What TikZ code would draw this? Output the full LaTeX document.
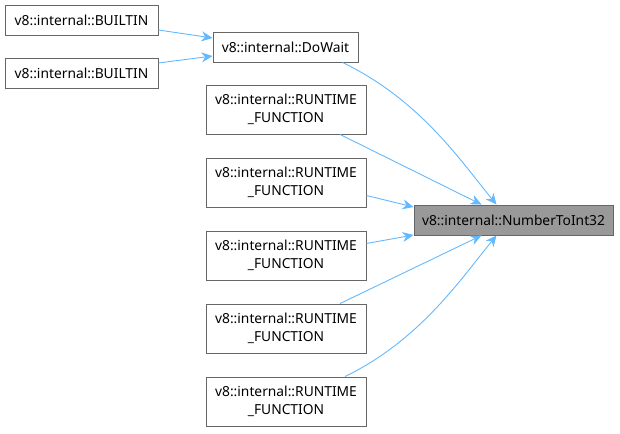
\documentclass[tikz,border=0pt]{standalone}
\usepackage{fontspec}
\setmainfont{Noto Sans}
\usetikzlibrary{arrows.meta}
\definecolor{edgeblue}{HTML}{63B8FF}
\definecolor{boxgray}{HTML}{666666}
\definecolor{fillgray}{HTML}{999999}

\begin{document}
\begin{tikzpicture}[x=1pt, y=-1pt, line width=0.9pt,
    fn/.style={draw=boxgray, fill=white, inner sep=0pt, align=center,
        font=\fontsize{13.8}{18}\selectfont},
    call/.style={draw=edgeblue, -{Stealth[length=11pt, width=10pt]}}]
            \useasboundingbox (0,0) rectangle (620,433);

            % Callers on the left
            \node[fn, minimum width=153, minimum height=30] (builtinA) at (81.5,20) {v8::internal::BUILTIN};
            \node[fn, minimum width=153, minimum height=30] (builtinB) at (81.5,73) {v8::internal::BUILTIN};
            \node[fn, minimum width=145, minimum height=30] (dowait) at (285.5,47) {v8::internal::DoWait};

            % The runtime functions
            \foreach \i/\y in {1/109.5, 2/182.5, 3/255.5, 4/328.5, 5/401.5} {
                \node[fn, minimum width=160, minimum height=49] (rt\i) at (286,\y) {v8::internal::RUNTIME\\\_FUNCTION};
            }

            % The callee
            \node[fn, fill=fillgray, minimum width=199, minimum height=30] (numtoint) at (513.5,220) {v8::internal::NumberToInt32};

            % Edges
            \draw[call] ([yshift=-10]builtinA.east) -- ([yshift=9]dowait.west);
            \draw[call] ([yshift=10]builtinB.east) -- ([yshift=-9]dowait.west);
            \draw[call] ([xshift=57]dowait.south) .. controls (420,100) and (460,160) .. ([xshift=-17]numtoint.north);
            \draw[call] ([xshift=54]rt1.south) -- ([xshift=-32]numtoint.north);
            \draw[call] ([yshift=-13]rt2.east) -- ([yshift=13]numtoint.west);
            \draw[call] ([yshift=12]rt3.east) -- ([yshift=-15]numtoint.west);
            \draw[call] ([xshift=54]rt4.north) -- ([xshift=-32]numtoint.south);
            \draw[call] ([xshift=59]rt5.north) .. controls (420,340) and (460,280) .. ([xshift=-17]numtoint.south);
        \end{tikzpicture}
\end{document}
